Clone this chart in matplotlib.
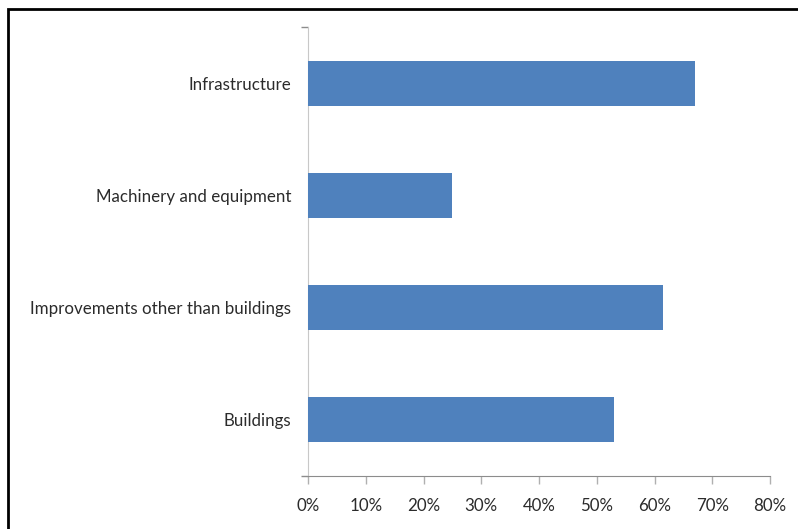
import matplotlib
matplotlib.use("Agg")
import matplotlib.pyplot as plt
from matplotlib.patches import Rectangle
from matplotlib.ticker import FuncFormatter, FixedLocator

matplotlib.rcParams["font.family"] = ["Lato", "DejaVu Sans"]
matplotlib.rcParams["font.size"] = 12.2

# asset types, bottom to top
categories = ["Buildings", "Improvements other than buildings",
              "Machinery and equipment", "Infrastructure"]
shares = [53, 61.5, 25, 67]  # percent
xticks = [0, 10, 20, 30, 40, 50, 60, 70, 80]

W, H = 798, 529
fig = plt.figure(figsize=(W / 100, H / 100), dpi=100)

# outer chart frame
fig.patches.append(Rectangle((8 / W, -0.1), 1.2, 1 - 9 / H + 0.1,
                             transform=fig.transFigure, fill=False,
                             edgecolor="black", linewidth=2.0))

ax = fig.add_axes([308 / W, 1 - 476 / H, (770 - 308) / W, (476 - 27) / H])
ax.barh(range(len(categories)), shares, height=0.4, color="#4F81BD", zorder=3)

ax.set_xlim(0, 80)
ax.set_ylim(-0.5, len(categories) - 0.5)
ax.set_xticks(xticks)
ax.xaxis.set_major_formatter(FuncFormatter(lambda v, p: "{:d}%".format(int(v))))
ax.set_yticks(range(len(categories)))
ax.set_yticklabels(categories)
ax.yaxis.set_minor_locator(FixedLocator([-0.5, len(categories) - 0.5]))

txt = "#2B2B2B"
ax.tick_params(axis="x", length=6, width=1, color="#B0B0B0", pad=10,
               labelcolor=txt)
ax.tick_params(axis="y", which="major", length=0, pad=12, labelcolor=txt)
ax.tick_params(axis="y", which="minor", length=5, width=1, color="#8C8C8C")

for s in ["top", "right"]:
    ax.spines[s].set_visible(False)
ax.spines["left"].set_color("#C8C8C8")
ax.spines["bottom"].set_color("#8C8C8C")

fig.savefig("out.png", dpi=100)
